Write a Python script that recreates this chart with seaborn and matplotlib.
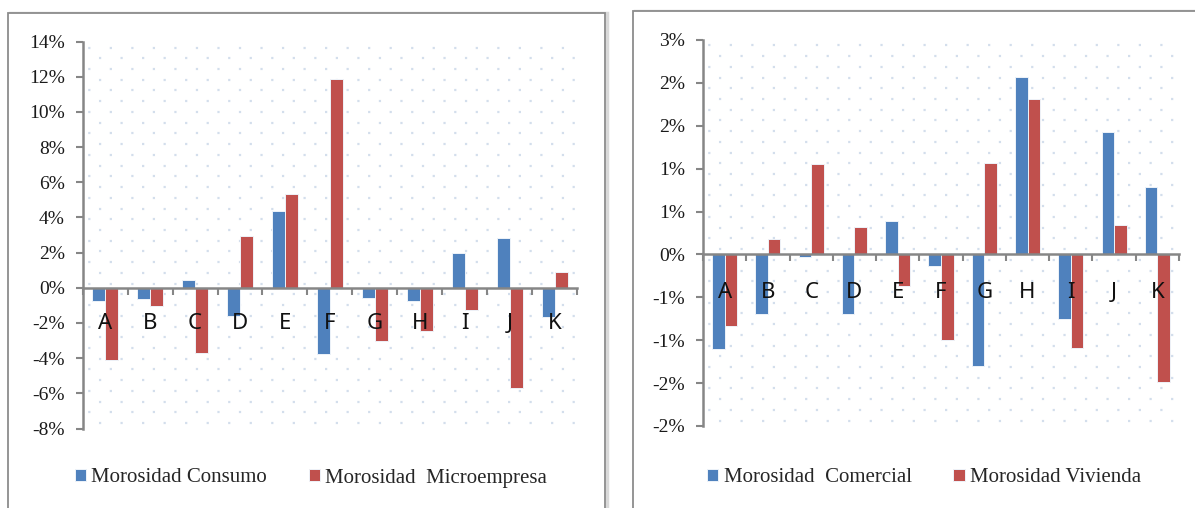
import matplotlib
matplotlib.use("Agg")
import matplotlib.pyplot as plt
from matplotlib.patches import Rectangle
from matplotlib.ticker import FixedLocator
import seaborn as sns
import pandas as pd
import numpy as np

# ---------------- data ----------------
categories = ["A", "B", "C", "D", "E", "F", "G", "H", "I", "J", "K"]

left_series = ["Morosidad Consumo", "Morosidad  Microempresa"]
consumo = [-0.75, -0.61, 0.43, -1.59, 4.36, -3.78, -0.59, -0.78, 1.98, 2.81, -1.67]
microempresa = [-4.13, -1.01, -3.73, 2.94, 5.34, 11.84, -3.03, -2.48, -1.25, -5.72, 0.92]
left_ticks = [-8, -6, -4, -2, 0, 2, 4, 6, 8, 10, 12, 14]
left_tick_labels = ["-8%", "-6%", "-4%", "-2%", "0%", "2%", "4%", "6%", "8%", "10%", "12%", "14%"]

right_series = ["Morosidad  Comercial", "Morosidad Vivienda"]
comercial = [-1.10, -0.70, -0.03, -0.69, 0.39, -0.14, -1.30, 2.07, -0.75, 1.43, 0.79]
vivienda = [-0.84, 0.18, 1.06, 0.32, -0.37, -1.00, 1.07, 1.81, -1.09, 0.34, -1.49]
right_ticks = [-2.0, -1.5, -1.0, -0.5, 0.0, 0.5, 1.0, 1.5, 2.0, 2.5]
right_tick_labels = ["-2%", "-2%", "-1%", "-1%", "0%", "1%", "1%", "2%", "2%", "3%"]

BLUE = "#4F81BD"
RED = "#C0504D"
AXIS = "#868686"
DOT = "#D3DEEC"

sns.set_theme(style="white")
plt.rcParams["font.family"] = ["Liberation Serif", "DejaVu Serif"]
plt.rcParams["lines.scale_dashes"] = False

W, H = 1195, 508
fig = plt.figure(figsize=(W / 100, H / 100), dpi=100)
fig.patch.set_facecolor("white")


def fx(px):
    return px / W


def fy(py):
    return 1 - py / H


# panel frames
for (x0, y0, x1) in [(7.5, 12.5, 605.5), (632.5, 10.5, 1200)]:
    fig.patches.append(Rectangle((fx(x0 + 2), fy(H + 10)), fx(x1 - x0), (H + 10 - y0) / H,
                                 transform=fig.transFigure, facecolor="none",
                                 edgecolor="#D9D9D9", lw=2.5, zorder=-2))
    fig.patches.append(Rectangle((fx(x0), fy(H + 10)), fx(x1 - x0), (H + 10 - y0) / H,
                                 transform=fig.transFigure, facecolor="white",
                                 edgecolor="#8C8C8C", lw=1.3, zorder=-1))


def draw_panel(rect, values_a, values_b, names, ylim, ticks, tick_labels, dot_step,
               label_pad, legend_center):
    ax = fig.add_axes(rect)
    ax.set_facecolor("none")
    df = pd.DataFrame({
        "cat": categories * 2,
        "val": list(values_a) + list(values_b),
        "serie": [names[0]] * len(categories) + [names[1]] * len(categories),
    })
    sns.barplot(data=df, x="cat", y="val", hue="serie", order=categories,
                hue_order=names, palette=[BLUE, RED], saturation=1, width=0.58,
                edgecolor="#EEF3F9", linewidth=0.7, ax=ax, errorbar=None, zorder=2)
    ax.set_xlim(-0.5, len(categories) - 0.5)
    ax.set_ylim(*ylim)
    ax.set_xlabel("")
    ax.set_ylabel("")
    ax.grid(False)

    # staggered dot pattern background (chart-area fill)
    rows = np.arange(ylim[0] + dot_step / 2, ylim[1], dot_step)
    trans = ax.get_yaxis_transform()
    ax.hlines(rows[0::2], 0, 1, transform=trans, colors=DOT, lw=1.6,
              linestyles=[(4.0, (1.6, 13.9))], zorder=0.5)
    ax.hlines(rows[1::2], 0, 1, transform=trans, colors=DOT, lw=1.6,
              linestyles=[(11.75, (1.6, 13.9))], zorder=0.5)

    # spines
    for s in ["top", "right"]:
        ax.spines[s].set_visible(False)
    ax.spines["left"].set_color(AXIS)
    ax.spines["left"].set_linewidth(1.8)
    ax.spines["bottom"].set_color(AXIS)
    ax.spines["bottom"].set_linewidth(1.8)
    ax.spines["bottom"].set_position(("data", 0))
    ax.spines["bottom"].set_zorder(3)

    ax.set_yticks(ticks)
    ax.set_yticklabels(tick_labels)
    ax.tick_params(axis="y", which="major", direction="out", length=5, width=1.5,
                   color=AXIS, pad=8, labelsize=14, labelcolor="#1a1a1a", left=True)

    ax.set_xticks(range(len(categories)))
    ax.set_xticklabels([])
    ax.tick_params(axis="x", which="major", length=0)
    ax.xaxis.set_minor_locator(FixedLocator(np.arange(-0.5, len(categories), 1.0)))
    ax.tick_params(axis="x", which="minor", direction="out", length=5, width=1.5,
                   color=AXIS, bottom=True)

    for i, c in enumerate(categories):
        ax.annotate(c, xy=(i, 0), xytext=(0, -label_pad), textcoords="offset points",
                    ha="center", va="top", fontsize=16, family=["Noto Sans", "DejaVu Sans"],
                    color="#111111", zorder=5)

    handles, labels = ax.get_legend_handles_labels()
    ax.legend_.remove()
    fig.legend(handles, labels, loc="center", bbox_to_anchor=legend_center,
               bbox_transform=fig.transFigure, ncol=2, frameon=False, fontsize=15,
               handlelength=0.55, handleheight=0.55, handletextpad=0.25,
               columnspacing=2.0, borderaxespad=0)
    return ax


draw_panel([fx(82.7), fy(428.5), fx(577 - 82.7), (428.5 - 41.5) / H],
           consumo, microempresa, left_series, (-8, 14), left_ticks, left_tick_labels,
           0.61, 18.5, (fx(311), fy(478)))

draw_panel([fx(703), fy(426), fx(1179 - 703), (426 - 40) / H],
           comercial, vivienda, right_series, (-2.0, 2.5), right_ticks, right_tick_labels,
           0.125, 19.5, (fx(924), fy(478)))

fig.savefig("out.png", dpi=100, facecolor="white")
